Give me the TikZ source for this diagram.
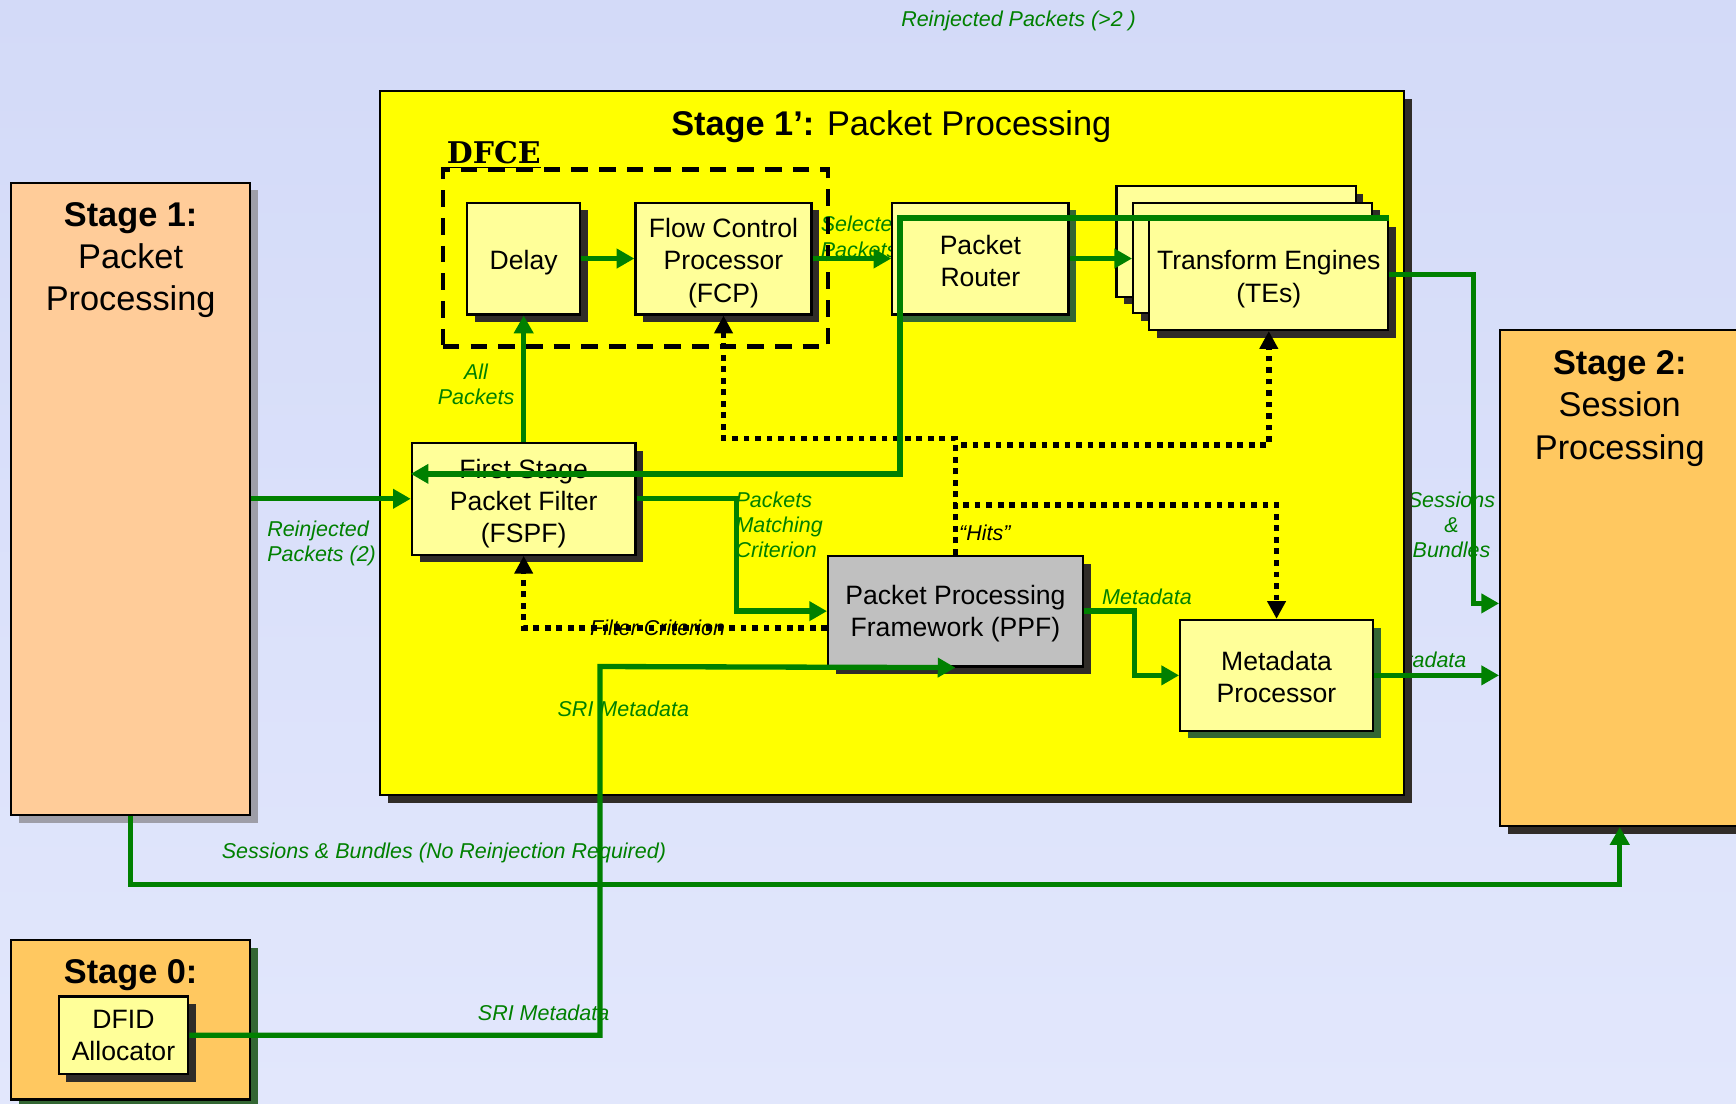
\documentclass[tikz,border=0pt]{standalone}
\usepackage{fontspec}
\setmainfont{Liberation Sans}
\newfontfamily\dfcefont{DejaVu Serif}
\usetikzlibrary{arrows.meta,shadows,calc}

\definecolor{bgtop}{RGB}{211,218,248}
\definecolor{bgbot}{RGB}{226,231,252}
\definecolor{yel}{RGB}{255,255,0}
\definecolor{lightyel}{RGB}{255,255,153}
\definecolor{peach}{RGB}{255,204,153}
\definecolor{orng}{RGB}{255,200,96}
\definecolor{ppfgray}{RGB}{192,192,192}
\definecolor{lgreen}{RGB}{0,128,0}
\definecolor{shdark}{RGB}{48,44,40}
\definecolor{shgreen}{RGB}{51,102,51}
\definecolor{shgray}{RGB}{158,158,168}

% invisible strut that makes the first text line taller, lowering the block
\newcommand\firstlift[1]{\rule{0pt}{#1}}

\tikzset{
  wh/.style 2 args={minimum width=#1*0.5pt, minimum height=#2*0.5pt},
  shd/.style={drop shadow={shadow xshift=3.5pt, shadow yshift=-3.5pt, fill=#1, opacity=1}},
  blk/.style={draw=black, line width=1pt, inner sep=0pt, align=center,
    font=\fontsize{12}{14.5}\selectfont},
  unit/.style={blk, fill=lightyel, shd=shdark},
  stagetitle/.style={align=center, inner sep=0pt, font=\fontsize{15.5}{19}\selectfont},
  lbl/.style={text=lgreen, inner sep=0pt, align=center,
    font=\fontsize{9.7}{11.5}\selectfont\itshape},
  flow/.style={draw=lgreen, line width=2.4pt, -{Triangle[length=8pt,width=8.5pt]}},
  ctrl/.style={draw=black, line width=2.5pt, dash pattern=on 2.6pt off 2.6pt,
    -{Triangle[length=8pt,width=8pt]}},
}

\begin{document}
\begin{tikzpicture}[x=0.5pt,y=-0.5pt]
\useasboundingbox (0,0) rectangle (1568,997);
\clip (0,0) rectangle (1568,997);
\shade[top color=bgtop, bottom color=bgbot] (0,0) rectangle (1568,997);

% labels partly hidden behind the stage blocks
\node[lbl] (lmeta2) at (1284,596) {Metadata};
\node[lbl] (lsess) at (1311,474) {Sessions\\\&\\Bundles};

% stage blocks
\node[blk, fill=peach, shd=shgray, wh={216}{571}] (st1) at (118,450.5) {};
\node[blk, fill=orng, shd=shgreen, wh={216}{144}] (st0) at (118,921) {};
\node[blk, fill=orng, shd=shdark, wh={216}{448}] (st2) at (1463,522) {};
\node[blk, fill=yel, shd=shdark, wh={925}{636}] (yel) at (805.5,400) {};

\node[stagetitle] (t1) at (118,235) {\textbf{Stage 1:}\\Packet\\Processing};
\node[stagetitle] (t2) at (1463,369) {\textbf{Stage 2:}\\Session\\Processing};
\node[stagetitle, font=\fontsize{15.5}{19}\selectfont\bfseries] (t0) at (118,881) {Stage 0:};
\node[stagetitle] (t1p) at (805,114) {\textbf{Stage 1’:} Packet Processing};
\node[inner sep=0pt, font=\fontsize{13.5}{15}\dfcefont\bfseries] (tdfce) at (446,140) {\underline{DFCE}};

% label under the router box edge
\node[lbl, align=left, anchor=west] (lsel) at (741,214) {Selected\\Packets};

% DFCE group outline
\node[draw=black, line width=2pt, dash pattern=on 7.5pt off 5pt, wh={348}{160}] (dfce) at (574,233) {};

% processing units
\node[unit, wh={102}{101}] (delay) at (473,233.5) {\firstlift{12.5pt}Delay};
\node[unit, wh={159}{101}] (fcp) at (653.5,233.5) {\firstlift{12.8pt}Flow Control\\Processor\\(FCP)};
\node[blk, fill=lightyel, shd=shgreen, wh={159}{101}] (router) at (885.5,233.5) {\firstlift{10.8pt}Packet\\Router};
\node[unit, wh={216}{100}] (te3) at (1116.5,218) {};
\node[unit, wh={216}{100}] (te2) at (1131.5,233) {};
\node[unit, wh={216}{100}] (te1) at (1146,248) {\firstlift{12.8pt}Transform Engines\\(TEs)};
\node[unit, wh={202}{101}] (fspf) at (473,450.5) {\firstlift{12.8pt}First Stage\\Packet Filter\\(FSPF)};
\node[blk, fill=ppfgray, shd=shdark, wh={230}{100}] (ppf) at (863,552) {\firstlift{11.3pt}Packet Processing\\Framework (PPF)};
\node[blk, fill=lightyel, shd=shgreen, wh={174}{100}] (mp) at (1153,610) {\firstlift{10.3pt}Metadata\\Processor};
\node[unit, wh={117}{70}] (dfid) at (111.5,935) {DFID\\Allocator};

% connector labels
\node[lbl] (lrein) at (920,18.5) {Reinjected Packets (>2 )};
\node[lbl] (lall) at (430,347) {All\\Packets};
\node[lbl, align=left, anchor=west] (lrein2) at (241,491) {Reinjected\\Packets (2)};
\node[lbl, align=left, anchor=west] (lmatch) at (664,474) {Packets\\Matching\\Criterion};
\node[lbl, text=black] (lfilt) at (594,567) {Filter Criterion};
\node[lbl, text=black, anchor=west] (lhits) at (866,481) {“Hits”};
\node[lbl] (lmeta) at (1036,539) {Metadata};
\node[lbl] (lnorein) at (401,770) {Sessions \& Bundles (No Reinjection Required)};
\node[lbl] (lsri1) at (491,915) {SRI Metadata};
\node[lbl] (lsri2) at (563,640) {SRI Metadata};

% control (dotted) connectors
\draw[ctrl] ($(ppf.west)+(0,15)$) -| (fspf.south);
\draw[ctrl] (ppf.north) -- ++(0,-105) -| (fcp.south);
\draw[ctrl] (ppf.north) -- ++(0,-99) -| (te1.south);
\draw[ctrl] (ppf.north) -- ++(0,-45) -| (mp.north);

% data (green) connectors
\coordinate (rjturn) at (813,428);
\coordinate (sriturn) at (542,602);
\draw[flow] (st1.east) -- (fspf.west);
\draw[flow] (fspf.north) -- (delay.south);
\draw[flow] (delay) -- (fcp);
\draw[flow] (fcp) -- (router);
\draw[flow] (router.east) -- (router.east -| te2.west);
\draw[flow] (te1.north east) -| (rjturn) -- (rjturn -| fspf.west);
\draw[flow] (fspf.east) -- ++(90,0) |- (ppf.west);
\draw[flow] (ppf.east) -- ++(46,0) |- (mp.west);
\draw[flow] (mp.east) -- (mp.east -| st2.west);
\draw[flow] (te1.east) -- ++(76,0) |- ($(st2.west)+(0,23)$);
\draw[flow] (st1.south) -- ++(0,62) -| (st2.south);
\draw[flow] (dfid.east) -| (sriturn) -- (ppf.south);
\end{tikzpicture}
\end{document}
